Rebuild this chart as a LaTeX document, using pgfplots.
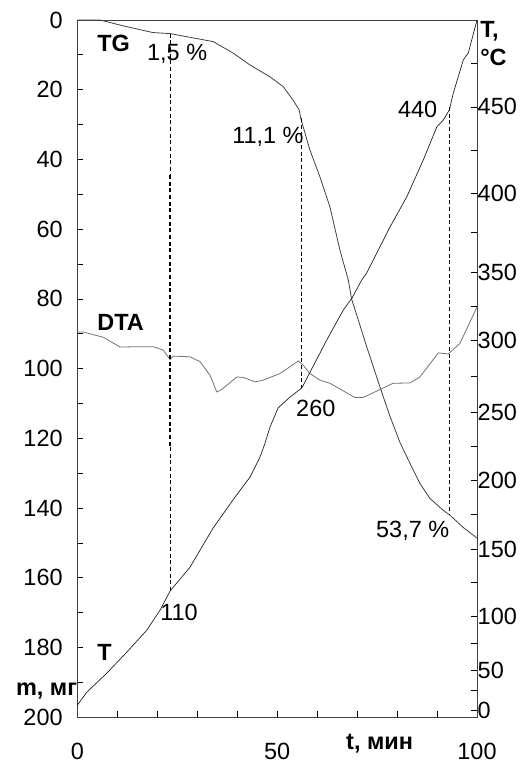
\documentclass[border=0pt]{standalone}
\usepackage{fontspec}
\setmainfont{Liberation Sans}
\usepackage{pgfplots}
\pgfplotsset{compat=1.18}

\pgfplotstableread{
t m
0 0
5.7 0
11.2 1.6
18.9 3.6
23.2 3.9
34.0 6.2
39.0 9.5
43.2 12.9
48.2 16.3
51.5 19.1
54.0 23.0
55.5 25.8
55.9 28.2
56.5 30.6
58.2 37.3
60.7 45.0
63.2 53.6
65.7 66.0
67.8 74.6
68.6 79.9
72.4 93.7
75.7 105.2
78.2 113.6
80.7 121.1
83.2 127.1
85.7 132.9
88.2 137.2
91.5 140.6
93.2 142.0
96.5 145.5
100 148.6
}\tgdata

\pgfplotstableread{
t d
0 89.5
1.5 89.5
6.5 91.0
10.7 93.8
15.7 93.7
19.0 93.7
21.5 94.7
23.2 97.4
24.0 96.4
28.2 96.6
30.7 98.0
33.2 101.9
34.9 106.7
36.1 106.0
39.9 102.4
41.5 102.5
44.5 103.8
46.5 103.3
50.7 101.4
55.3 97.8
56.5 99.0
58.2 101.4
60.7 103.3
63.2 104.2
69.5 108.3
71.5 108.3
79.0 104.2
83.2 104.1
85.7 102.4
90.3 95.5
92.8 95.8
95.7 92.8
100 82.3
}\dtadata

\pgfplotstableread{
t T
0 6.25
2.35 22.5
7.36 46.3
12.36 66.7
17.36 87.0
20.69 104.5
23.19 118.7
28.2 136.6
33.95 165.2
39.45 187.7
43.2 202.2
45.7 216.9
46.96 227.2
48.21 239.0
50.21 252.8
53.2 260.4
56.14 266.7
56.54 268.7
60.7 290.9
62.4 300.0
66.55 322.1
68.73 330.9
71.15 344.1
72.4 349.3
78.23 378.5
82.41 397.5
86.56 419.2
89.92 438.3
91.57 442.4
93.07 448.2
94.07 458.1
96.57 477.3
97.82 481.4
100 500.5
}\tdata

\begin{document}
\begin{tikzpicture}[font=\fontsize{17.6}{21}\selectfont]
\begin{axis}[
  scale only axis, width=299.8pt, height=523pt,
  xmin=0, xmax=100, ymin=0, ymax=200, y dir=reverse,
  tick align=inside, tick pos=left,
  xtick={0,50,100}, minor xtick={10,20,30,40,60,70,80,90},
  ytick={0,20,...,200}, minor ytick={10,30,...,190},
  major tick length=4.5pt, minor tick length=4.5pt,
  every tick/.style={black, line width=0.6pt},
  every minor tick/.style={black, line width=0.6pt},
  axis line style={black!75, line width=0.7pt},
  /pgf/number format/assume math mode=true,
  ticklabel style={font=\fontsize{17.6}{21}\selectfont},
  yticklabel style={xshift=-7.5pt},
  xticklabel style={yshift=-15.5pt},
  clip=false,
]
\addplot[black!75, line width=0.6pt] table[x=t, y=m] {\tgdata};
\addplot[black!55, line width=0.6pt] table[x=t, y=d] {\dtadata};
\addplot[black, line width=0.5pt, dash pattern=on 3pt off 2pt] coordinates {(23.2,3.9) (23.2,44.5)};
\addplot[black, line width=1.2pt, dash pattern=on 3pt off 2pt] coordinates {(23.2,44.5) (23.2,122.5)};
\addplot[black, line width=0.5pt, dash pattern=on 3pt off 2pt] coordinates {(23.2,122.5) (23.2,163.8)};
\addplot[black, line width=0.5pt, dash pattern=on 3pt off 2pt] coordinates {(56.1,28.2) (56.1,105.6)};
\addplot[black, line width=1.3pt, dash pattern=on 3pt off 2pt] coordinates {(93.1,25.0) (93.1,142.0)};
\node[anchor=base west, inner sep=0] at (axis cs:4.95,9.1) {\bfseries TG};
\node[anchor=base west, inner sep=0] at (axis cs:17.4,11.5) {1,5 \%};
\node[anchor=base west, inner sep=0] at (axis cs:38.7,35.3) {11,1 \%};
\node[anchor=base west, inner sep=0] at (axis cs:80.2,28.1) {440};
\node[anchor=base west, inner sep=0] at (axis cs:4.95,89.0) {\bfseries DTA};
\node[anchor=base west, inner sep=0] at (axis cs:54.7,113.8) {260};
\node[anchor=base west, inner sep=0] at (axis cs:74.7,148.3) {53,7 \%};
\node[anchor=base west, inner sep=0] at (axis cs:20.7,172.2) {110};
\node[anchor=base west, inner sep=0] at (axis cs:4.95,183.8) {\bfseries T};
\node[anchor=base east, inner sep=0] at (axis cs:0,193.7) {\bfseries m, мг};
\node[anchor=base west, inner sep=0] at (axis cs:67.2,209.3) {\bfseries t, мин};
\node[anchor=north west, inner sep=0, align=left, font=\fontsize{17.6}{21}\selectfont\bfseries] at (rel axis cs:1,1) [xshift=2.3pt, yshift=-1pt] {T,\\°C};
\end{axis}
\begin{axis}[
  scale only axis, width=299.8pt, height=523pt,
  xmin=0, xmax=100,
  axis x line=none, axis y line*=right,
  y coord trafo/.code={\pgfmathparse{(#1<50) ? (7+0.8*(#1)) : ((#1<100) ? (47+1.08*(#1-50)) : ((#1<150) ? (101+1.34*(#1-100)) : ((#1<200) ? (168+1.38*(#1-150)) : ((#1<250) ? (237+1.36*(#1-200)) : ((#1<300) ? (305+1.44*(#1-250)) : ((#1<350) ? (377+1.36*(#1-300)) : ((#1<400) ? (445+1.58*(#1-350)) : (524+1.72*(#1-400)))))))))}},
  ymin=-8.75, ymax=500.5,
  tick align=inside,
  ytick={0,50,100,150,200,250,300,350,400,450},
  yticklabels={0,50,100,150,200,250,300,350,400,450},
  minor ytick={25,75,125,175,225,275,325,375,425,475},
  major tick length=4.5pt, minor tick length=4.5pt,
  every tick/.style={black, line width=0.6pt},
  every minor tick/.style={black, line width=0.6pt},
  axis line style={black!75, line width=0.7pt},
  ticklabel style={font=\fontsize{17.6}{21}\selectfont},
  yticklabel style={xshift=-3pt},
  clip=false,
]
\addplot[black!90, line width=0.5pt] table[x=t, y=T] {\tdata};
\end{axis}
\pgfresetboundingbox
\useasboundingbox (-58pt,-35.8pt) rectangle (336.55pt,538pt);
\end{tikzpicture}
\end{document}
